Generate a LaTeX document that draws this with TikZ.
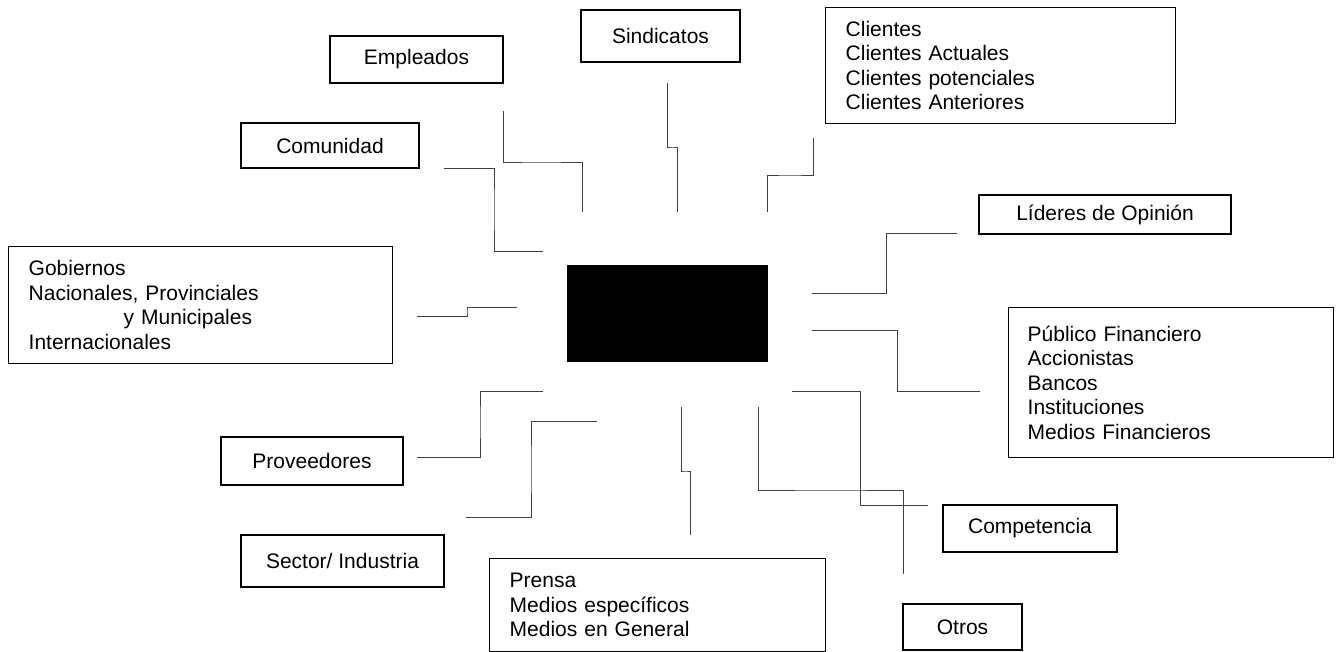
\documentclass[tikz,border=0pt]{standalone}
\usepackage{fontspec}
\setmainfont{Liberation Sans}
\begin{document}
\begin{tikzpicture}[x=1pt,y=-1pt,
  box/.style={draw=black,line width=1.4pt,rectangle,inner sep=0pt,font=\fontsize{21}{24.5}\selectfont},
  mbox/.style={box,align=left,inner ysep=0pt},
  conn/.style={draw=black!75,line width=0.9pt}]
\useasboundingbox (0,0) rectangle (1338,652);
% single-line boxes
\node[box,minimum width=173pt,minimum height=47pt] (emp) at (416.5,59.5) {Empleados};
\node[box,minimum width=159pt,minimum height=52pt] (sin) at (660.5,36) {Sindicatos};
\node[box,minimum width=178pt,minimum height=45pt] (com) at (330,145.5) {Comunidad};
\node[box,minimum width=252pt,minimum height=39pt] (lid) at (1105,214.5) {Líderes de Opinión};
\node[box,minimum width=182pt,minimum height=48pt] (prov) at (312,461) {Proveedores};
\node[box,minimum width=203pt,minimum height=52pt] (sec) at (342.5,561) {Sector/ Industria};
\node[box,minimum width=174pt,minimum height=47pt] (comp) at (1030,528.5) {Competencia};
\node[box,minimum width=119pt,minimum height=46pt] (otr) at (962.5,627) {Otros};
% multi-line boxes
\node[mbox,anchor=north west,text width=310pt,inner xsep=20pt,minimum height=116pt] (cli) at (825,7)
  {Clientes\\Clientes Actuales\\Clientes potenciales\\Clientes Anteriores};
\node[mbox,anchor=north west,text width=344pt,inner xsep=20pt,minimum height=117pt] (gob) at (8,246)
  {Gobiernos\\Nacionales, Provinciales\\\hspace*{95pt}y Municipales\\Internacionales};
\node[mbox,anchor=north west,text width=287pt,inner xsep=19pt,minimum height=150pt] (pub) at (1008,307)
  {Público Financiero\\Accionistas\\Bancos\\Instituciones\\Medios Financieros};
\node[mbox,anchor=north west,text width=296pt,inner xsep=20pt,minimum height=93pt] (pre) at (489,558)
  {Prensa\\Medios específicos\\Medios en General};
% centre
\node[fill=black,draw=black,minimum width=200pt,minimum height=96pt,inner sep=0pt] (ctr) at (667,313) {};
% connector end points
\coordinate (c1s) at (444,168); \coordinate (c1e) at (543,251);
\coordinate (c2s) at (503,111); \coordinate (c2e) at (582,212);
\coordinate (c3s) at (667,83);  \coordinate (c3e) at (677,212);
\coordinate (c4s) at (813,138); \coordinate (c4e) at (767,212);
\coordinate (c5s) at (812,293); \coordinate (c5e) at (957,233);
\coordinate (c6s) at (812,330); \coordinate (c6e) at (980,391);
\coordinate (c7s) at (792,391); \coordinate (c7e) at (928,505);
\coordinate (c8s) at (758,407); \coordinate (c8e) at (903,574);
\coordinate (c9s) at (681,407); \coordinate (c9e) at (690,535);
\coordinate (c10s) at (597,421); \coordinate (c10e) at (466,517);
\coordinate (c11s) at (543,391); \coordinate (c11e) at (417,457);
\coordinate (c12s) at (517,307); \coordinate (c12e) at (417,316);
% connectors
\draw[conn] (c1s) -| (494,210) |- (c1e);
\draw[conn] (c2s) |- (540,162) -| (c2e);
\draw[conn] (c3s) |- (672,147) -| (c3e);
\draw[conn] (c4s) |- (790,175) -| (c4e);
\draw[conn] (c5s) -| (886,260) |- (c5e);
\draw[conn] (c6s) -| (897,360) |- (c6e);
\draw[conn] (c7s) -| (860,450) |- (c7e);
\draw[conn] (c8s) |- (830,490) -| (c8e);
\draw[conn] (c9s) |- (685,471) -| (c9e);
\draw[conn] (c10s) -| (531,470) |- (c10e);
\draw[conn] (c11s) -| (480,420) |- (c11e);
\draw[conn] (c12s) -| (467,312) |- (c12e);
\end{tikzpicture}
\end{document}
